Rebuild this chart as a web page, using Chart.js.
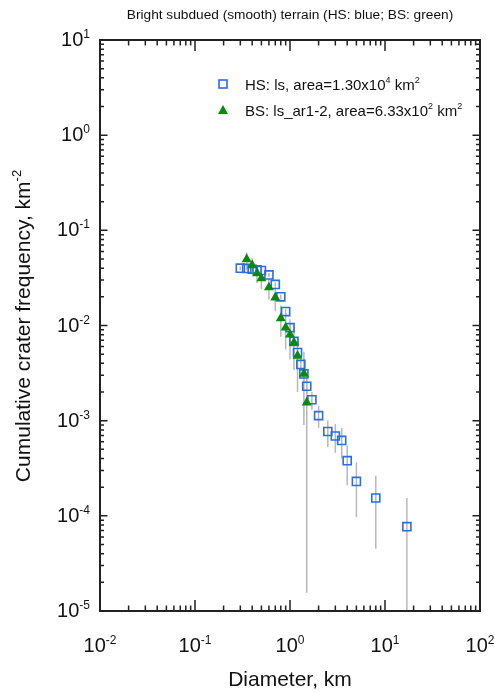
<!DOCTYPE html>
<html>
<head>
<meta charset="utf-8">
<script src="https://cdn.jsdelivr.net/npm/chart.js@4"></script>
<style>
  html, body { margin: 0; padding: 0; background: #fff; }
</style>
</head>
<body>
<canvas id="myChart" width="495" height="693"></canvas>
<script>
// HS: ls  (blue squares)
const hsDiam = [0.30, 0.35, 0.40, 0.45, 0.50, 0.60, 0.70, 0.80, 0.90, 1.0, 1.1, 1.2, 1.3, 1.4, 1.5, 1.7, 2.0, 2.5, 3.0, 3.5, 4.0, 5.0, 8.0, 17.0];
const hsFreq = [0.0400, 0.0398, 0.0390, 0.0385, 0.0378, 0.0340, 0.0270, 0.0200, 0.0140, 0.0095, 0.0068, 0.0052, 0.0039, 0.0031, 0.0023, 0.00166, 0.00113, 0.00077, 0.00069, 0.00062, 0.00038, 0.00023, 0.000154, 0.0000769];
const hsLow  = [0.0382, 0.0380, 0.0373, 0.0368, 0.0361, 0.0324, 0.0256, 0.0188, 0.0130, 0.0087, 0.0061, 0.0046, 0.0034, 0.0026, 0.0019, 0.0013, 0.00084, 0.00053, 0.00046, 0.00040, 0.00021, 0.000097, 0.000045, 0.00000077];
const hsHigh = [0.0418, 0.0416, 0.0407, 0.0402, 0.0395, 0.0356, 0.0284, 0.0212, 0.0150, 0.0104, 0.0075, 0.0058, 0.0045, 0.0036, 0.0027, 0.0020, 0.00143, 0.00101, 0.00092, 0.00084, 0.00055, 0.000363, 0.000263, 0.000154];

// BS: ls_ar1-2  (green triangles)
const bsDiam = [0.35, 0.40, 0.45, 0.50, 0.60, 0.70, 0.80, 0.90, 1.0, 1.1, 1.2, 1.4, 1.5];
const bsFreq = [0.0495, 0.0428, 0.0353, 0.0312, 0.0251, 0.0197, 0.0119, 0.0095, 0.0080, 0.0066, 0.0048, 0.0031, 0.00155];
const bsLow  = [0.0407, 0.0346, 0.0278, 0.0241, 0.0188, 0.0141, 0.0076, 0.0056, 0.0044, 0.0034, 0.0020, 0.0009, 0.0000155];
const bsHigh = [0.0583, 0.0510, 0.0428, 0.0383, 0.0314, 0.0253, 0.0162, 0.0134, 0.0116, 0.0098, 0.0076, 0.0053, 0.0031];

const xTickExp = [-2, -1, 0, 1, 2];
const yTickExp = [-5, -4, -3, -2, -1, 0, 1];

const FONT = '"Liberation Sans", Arial, Helvetica, sans-serif';

function drawRich(ctx, x, y, parts, size, supSize, rise, align) {
  let total = 0;
  for (const p of parts) {
    ctx.font = (p.sup ? supSize : size) + 'px ' + FONT;
    p.w = ctx.measureText(p.t).width;
    total += p.w;
  }
  let cx = x;
  if (align === 'center') cx = x - total / 2;
  if (align === 'right') cx = x - total;
  ctx.textAlign = 'left';
  ctx.textBaseline = 'alphabetic';
  for (const p of parts) {
    ctx.font = (p.sup ? supSize : size) + 'px ' + FONT;
    ctx.fillText(p.t, cx, p.sup ? y - rise : y);
    cx += p.w;
  }
}

function toPoints(xs, ys) {
  return xs.map((d, i) => ({ x: d, y: ys[i] }));
}

const errorBars = {
  id: 'errorBars',
  beforeDatasetsDraw(chart) {
    const { ctx, chartArea, scales } = chart;
    const sets = [[hsDiam, hsLow, hsHigh], [bsDiam, bsLow, bsHigh]];
    ctx.save();
    ctx.beginPath();
    ctx.rect(chartArea.left, chartArea.top, chartArea.right - chartArea.left, chartArea.bottom - chartArea.top);
    ctx.clip();
    ctx.strokeStyle = '#b8b8b8';
    ctx.lineWidth = 1.5;
    for (const [xs, lo, hi] of sets) {
      for (let i = 0; i < xs.length; i++) {
        const px = scales.x.getPixelForValue(xs[i]);
        ctx.beginPath();
        ctx.moveTo(px, scales.y.getPixelForValue(lo[i]));
        ctx.lineTo(px, scales.y.getPixelForValue(hi[i]));
        ctx.stroke();
      }
    }
    ctx.restore();
  }
};

const frame = {
  id: 'frame',
  afterDraw(chart) {
    const { ctx, chartArea: a, scales } = chart;
    ctx.save();
    ctx.strokeStyle = '#222';
    ctx.fillStyle = '#111';
    ctx.lineWidth = 2;
    ctx.strokeRect(a.left, a.top, a.right - a.left, a.bottom - a.top);

    ctx.lineWidth = 1.5;
    ctx.beginPath();
    // x ticks, bottom and top, pointing inward
    for (let e = xTickExp[0]; e < xTickExp[xTickExp.length - 1]; e++) {
      for (let m = 1; m <= 9; m++) {
        const px = scales.x.getPixelForValue(m * Math.pow(10, e));
        const len = m === 1 ? 11 : 5.5;
        ctx.moveTo(px, a.bottom); ctx.lineTo(px, a.bottom - len);
        ctx.moveTo(px, a.top); ctx.lineTo(px, a.top + len);
      }
    }
    // y ticks, left and right
    for (let e = yTickExp[0]; e < yTickExp[yTickExp.length - 1]; e++) {
      for (let m = 1; m <= 9; m++) {
        const py = scales.y.getPixelForValue(m * Math.pow(10, e));
        const len = m === 1 ? 7.5 : 4;
        ctx.moveTo(a.left, py); ctx.lineTo(a.left + len, py);
        ctx.moveTo(a.right, py); ctx.lineTo(a.right - len, py);
      }
    }
    ctx.stroke();

    // tick labels
    for (const e of xTickExp) {
      const px = scales.x.getPixelForValue(Math.pow(10, e));
      drawRich(ctx, px, 652, [{ t: '10' }, { t: String(e), sup: true }], 20, 12, 8, 'center');
    }
    for (const e of yTickExp) {
      const py = scales.y.getPixelForValue(Math.pow(10, e));
      drawRich(ctx, 90, py + 6, [{ t: '10' }, { t: String(e), sup: true }], 20, 12, 8, 'right');
    }

    // axis titles
    drawRich(ctx, (a.left + a.right) / 2, 686, [{ t: 'Diameter, km' }], 21, 12, 8, 'center');
    ctx.save();
    ctx.translate(30, 326);
    ctx.rotate(-Math.PI / 2);
    drawRich(ctx, 0, 0, [{ t: 'Cumulative crater frequency, km' }, { t: '-2', sup: true }], 21, 13, 9, 'center');
    ctx.restore();

    // title
    drawRich(ctx, (a.left + a.right) / 2, 19, [{ t: 'Bright subdued (smooth) terrain (HS: blue; BS: green)' }], 13.7, 9, 5, 'center');

    // legend
    ctx.strokeStyle = '#2a6fdb';
    ctx.lineWidth = 1.6;
    ctx.strokeRect(219, 80, 8, 8);
    ctx.fillStyle = '#0a8a0a';
    ctx.beginPath();
    ctx.moveTo(223, 105); ctx.lineTo(228, 114); ctx.lineTo(218, 114); ctx.closePath();
    ctx.fill();
    ctx.fillStyle = '#111';
    drawRich(ctx, 245, 90, [{ t: 'HS: ls, area=1.30x10' }, { t: '4', sup: true }, { t: ' km' }, { t: '2', sup: true }], 15, 9, 7, 'left');
    drawRich(ctx, 245, 116, [{ t: 'BS: ls_ar1-2, area=6.33x10' }, { t: '2', sup: true }, { t: ' km' }, { t: '2', sup: true }], 15, 9, 7, 'left');
    ctx.restore();
  }
};

new Chart(document.getElementById('myChart'), {
  type: 'scatter',
  data: {
    datasets: [
      {
        label: 'BS: ls_ar1-2',
        data: toPoints(bsDiam, bsFreq),
        pointStyle: 'triangle',
        pointRadius: 5.8,
        pointBackgroundColor: '#0a8a0a',
        pointBorderColor: '#0a8a0a',
        pointBorderWidth: 0,
        order: 0
      },
      {
        label: 'HS: ls',
        data: toPoints(hsDiam, hsFreq),
        pointStyle: 'rect',
        pointRadius: 5.7,
        pointBackgroundColor: 'rgba(0,0,0,0)',
        pointBorderColor: '#2a6fdb',
        pointBorderWidth: 1.6,
        order: 1
      }
    ]
  },
  options: {
    responsive: false,
    devicePixelRatio: 1,
    animation: false,
    layout: { padding: { left: 100, right: 15, top: 40, bottom: 82 } },
    scales: {
      x: { type: 'logarithmic', min: 0.01, max: 100, display: false },
      y: { type: 'logarithmic', min: 0.00001, max: 10, display: false }
    },
    plugins: {
      legend: { display: false },
      tooltip: { enabled: false }
    }
  },
  plugins: [errorBars, frame]
});
</script>
</body>
</html>
